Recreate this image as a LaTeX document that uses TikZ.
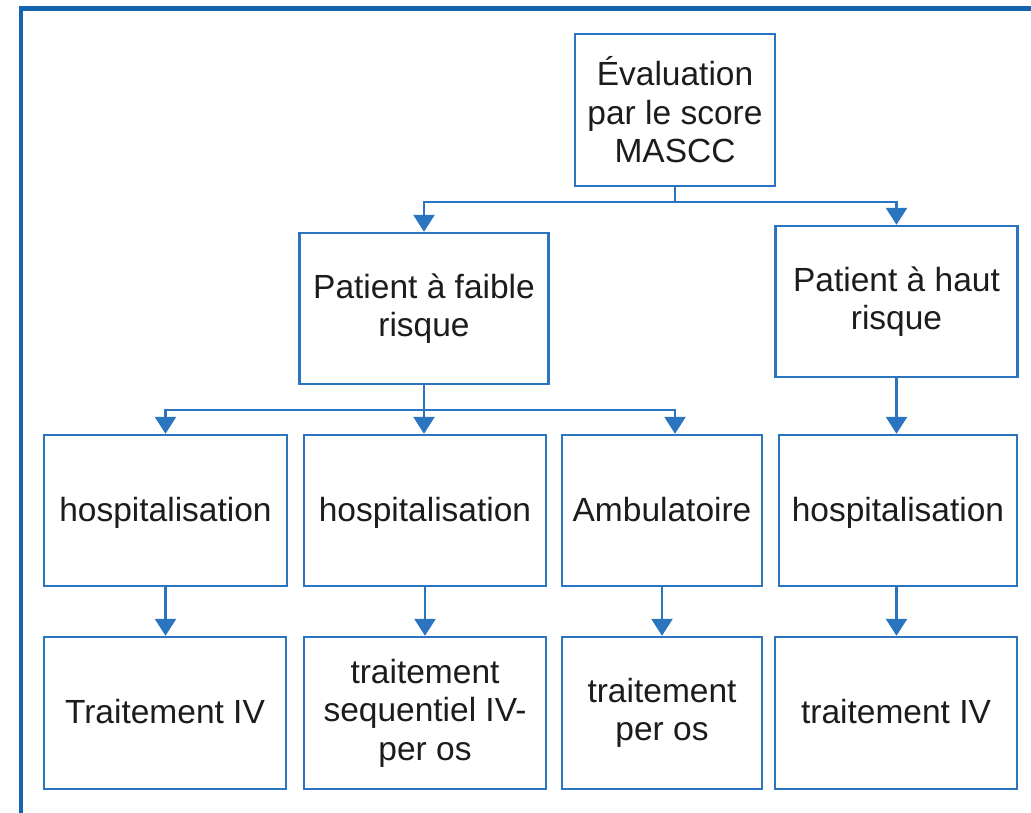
\documentclass[tikz,border=0pt]{standalone}
\usepackage{fontspec}
\setmainfont{Liberation Sans}
\usetikzlibrary{arrows.meta}
\definecolor{framecol}{RGB}{22,100,176}
\definecolor{boxcol}{RGB}{42,116,192}
\definecolor{txtcol}{RGB}{28,28,28}
\begin{document}
\begin{tikzpicture}[x=1pt,y=-1pt,
  stepbox/.style={draw=boxcol, line width=2.4pt, fill=white, inner sep=0pt,
    minimum height=151pt, align=center, text=txtcol,
    font=\fontsize{33.5}{38.5}\selectfont},
  oneline/.style={text height=26pt, text depth=5pt},
  link/.style={draw=boxcol, line width=2.6pt},
  linkarrow/.style={link, -{Triangle[width=21pt,length=17pt]}}]
  \useasboundingbox (0,0) rectangle (1031,812);
  \clip (0,0) rectangle (1031,812);

  % outer frame, running past the right and bottom edges
  \draw[framecol, line width=4.5pt] (21,8.5) rectangle (1060,850);

  % level 1
  \node[stepbox, minimum width=200pt, minimum height=152pt] (eval) at (675,110)
    {Évaluation\\par le score\\MASCC};

  % level 2
  \node[stepbox, minimum width=249pt] (faible) at (424,308.5)
    {Patient à faible\\risque};
  \node[stepbox, minimum width=242pt] (haut) at (896.5,301.5)
    {Patient à haut\\risque};

  % level 3
  \node[stepbox, oneline, minimum width=243pt] (h1) at (165.5,510.5) {hospitalisation};
  \node[stepbox, oneline, minimum width=242pt] (h2) at (425,510.5) {hospitalisation};
  \node[stepbox, oneline, minimum width=200pt] (amb) at (662,510.5) {Ambulatoire};
  \node[stepbox, oneline, minimum width=238pt] (h4) at (898,510.5) {hospitalisation};

  % level 4
  \node[stepbox, oneline, minimum width=242pt, minimum height=152pt] (t1) at (165,713)
    {Traitement IV};
  \node[stepbox, minimum width=242pt, minimum height=152pt] (t2) at (425,713)
    {traitement\\sequentiel IV-\\per os};
  \node[stepbox, minimum width=200pt, minimum height=152pt] (t3) at (662,713)
    {traitement\\per os};
  \node[stepbox, oneline, minimum width=242pt, minimum height=152pt] (t4) at (896,713)
    {traitement IV};

  % branch points
  \coordinate (j1) at (675,202);
  \coordinate (j2) at (424,410);

  % connectors from the score
  \draw[link] (eval.south) -- (j1);
  \draw[linkarrow] (j1) -| (faible.north);
  \draw[linkarrow] (j1) -| (haut.north);

  % connectors from the low-risk group
  \draw[link] (faible.south) -- (j2);
  \draw[linkarrow] (j2) -| (h1.north);
  \draw[linkarrow] (j2) -- (j2 |- h2.north);
  \draw[linkarrow] (j2) -| ([xshift=13pt]amb.north);

  % connector from the high-risk group
  \draw[linkarrow] (haut.south) -- (haut.south |- h4.north);

  % care setting to treatment
  \draw[linkarrow] (h1.south) -- (h1.south |- t1.north);
  \draw[linkarrow] (h2.south) -- (h2.south |- t2.north);
  \draw[linkarrow] (amb.south) -- (amb.south |- t3.north);
  \draw[linkarrow] (haut.south |- h4.south) -- (haut.south |- t4.north);
\end{tikzpicture}
\end{document}
